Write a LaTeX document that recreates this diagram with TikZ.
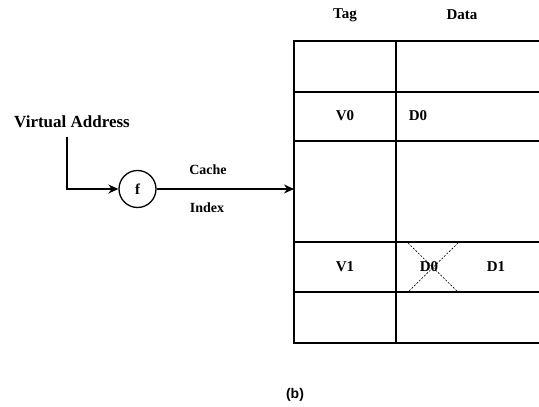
\documentclass[tikz,border=0pt]{standalone}
\usepackage{fontspec}
\setmainfont{Liberation Serif}
\setsansfont{Liberation Sans}
\usetikzlibrary{arrows.meta}
\begin{document}
\begin{tikzpicture}[x=1pt,y=-1pt,
  lbl/.style={font=\bfseries\fontsize{15}{18}\selectfont, inner sep=0pt},
  tbl/.style={line width=1.6pt},
  conn/.style={line width=1.3pt},
  tip/.style={-{Stealth[length=10pt,width=9pt]}},
  xline/.style={line width=0.6pt, dashed, dash pattern=on 2pt off 1.5pt}]
\useasboundingbox (0,0) rectangle (539,407);
% table
\foreach \yy in {41,92,141,242,292,343} \draw[tbl] (293,\yy) -- (539,\yy);
\draw[tbl] (294,41) -- (294,343);
\draw[tbl] (396,41) -- (396,343);
% headers and cells
\node[lbl] (tag) at (345,15) {Tag};
\node[lbl] (data) at (462,15) {Data};
\node[lbl] (v0) at (345,116) {V0};
\node[lbl] (d0) at (418,116) {D0};
\node[lbl] (v1) at (345,267) {V1};
\node[lbl] (d0x) at (429,267) {D0};
\node[lbl] (d1) at (496,267) {D1};
\draw[xline] (408,243) -- (458,292);
\draw[xline] (458,243) -- (408,292);
% left part
\node[lbl, font=\bfseries\fontsize{17}{20}\selectfont] (va) at (72,122) {Virtual Address};
\node[circle, draw, line width=1.3pt, minimum size=37pt, inner sep=0pt, font=\bfseries\fontsize{15}{18}\selectfont] (f) at (137.5,189) {f};
\coordinate (vastart) at (67,137);
\coordinate (corner) at (67,189);
\coordinate (tin) at (294,189);
\draw[conn,tip] (vastart) -- (corner) -- (f.west);
\draw[conn,tip] (f.east) -- (tin);
\node[lbl, font=\bfseries\fontsize{14}{17}\selectfont] (cache) at (208,170) {Cache};
\node[lbl, font=\bfseries\fontsize{14}{17}\selectfont] (index) at (207,208) {Index};
\node[font=\sffamily\bfseries\fontsize{14}{16}\selectfont, inner sep=0pt] (b) at (295,395) {(b)};
\end{tikzpicture}
\end{document}
